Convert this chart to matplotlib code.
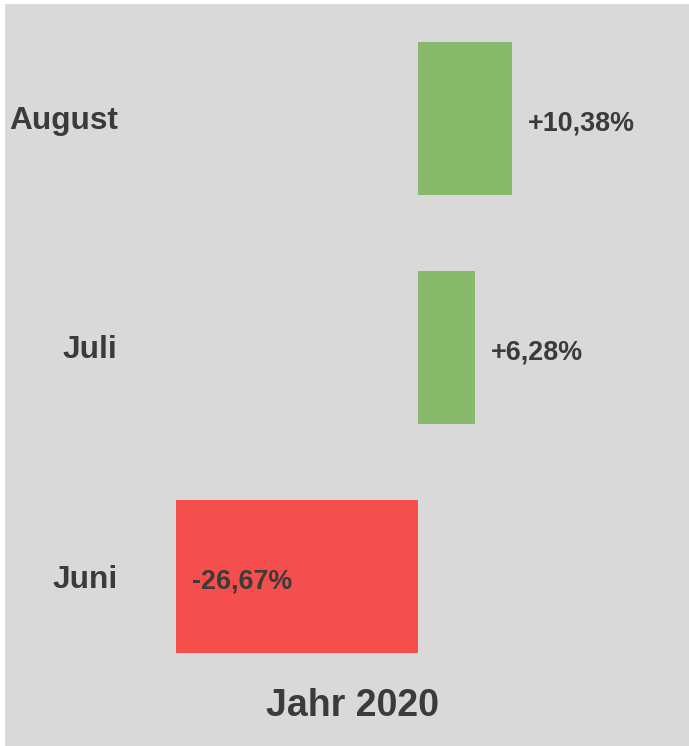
import matplotlib.pyplot as plt
from matplotlib.transforms import blended_transform_factory

months = ["Juni", "Juli", "August"]
changes = [-26.67, 6.28, 10.38]
value_labels = ["-26,67%", "+6,28%", "+10,38%"]
title = "Jahr 2020"

GRAY = "#d9d9d9"
TEXT = "#3b3b3b"
GREEN = "#89b96b"
RED = "#f54f4d"

plt.rcParams["font.family"] = ["Liberation Sans", "DejaVu Sans"]

fig = plt.figure(figsize=(6.89, 7.46), dpi=100)
fig.patch.set_facecolor("#ffffff")
ax = fig.add_axes([5 / 689, 0, 1 - 5 / 689 + 0.002, 742 / 746])
ax.set_facecolor(GRAY)

ypos = list(range(len(months)))
colors = [GREEN if v >= 0 else RED for v in changes]
ax.barh(ypos, changes, height=0.668, color=colors, linewidth=0)

# axes width grew by a hair, keep the same px-per-percent scale
ax.set_xlim(-45.6, 30.1)
ax.set_ylim(-0.74, 2.5)
ax.set_xticks([])
ax.set_yticks([])
for side in ax.spines.values():
    side.set_visible(False)

trans = blended_transform_factory(ax.transAxes, ax.transData)
for y, month in zip(ypos, months):
    ax.text(0.1645, y - 0.013, month, transform=trans, ha="right", va="center",
            fontsize=22.8, fontweight="bold", color=TEXT)

for y, v, lab in zip(ypos, changes, value_labels):
    ax.annotate(lab, xy=(v, y), xytext=(11.5, -3.5), textcoords="offset points",
                ha="left", va="center", fontsize=19.4, fontweight="bold", color=TEXT)

fig.text(352 / 689, 1 - 706 / 746, title, ha="center", va="center",
         fontsize=27, fontweight="bold", color=TEXT)

fig.savefig("out.png", dpi=100, facecolor=fig.get_facecolor())
